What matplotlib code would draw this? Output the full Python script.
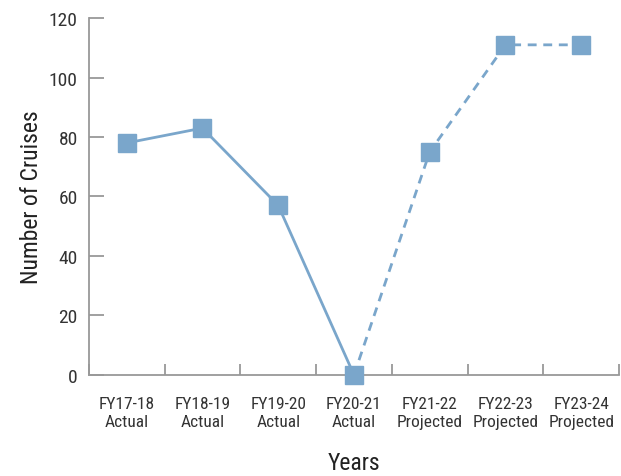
import numpy as np
import matplotlib.pyplot as plt

years = ["FY17-18\nActual", "FY18-19\nActual", "FY19-20\nActual", "FY20-21\nActual",
         "FY21-22\nProjected", "FY22-23\nProjected", "FY23-24\nProjected"]
cruises = [78, 83, 57, 0, 75, 111, 111]
n_actual = 4

plt.rcParams['font.family'] = ['Roboto Condensed', 'DejaVu Sans']
plt.rcParams['font.stretch'] = 'condensed'

color = '#7aa6cb'
axis_gray = '#999999'

fig = plt.figure(figsize=(6.21, 4.77), dpi=100)
ax = fig.add_axes([0.143, 0.212, 0.854, 0.748])

x = np.arange(len(years))
ax.plot(x[:n_actual], cruises[:n_actual], color=color, lw=2, zorder=2)
ax.plot(x[n_actual - 1:], cruises[n_actual - 1:], color=color, lw=2, ls=(0, (3.2, 2.4)), zorder=2)
ax.plot(x, cruises, ls='none', marker='s', ms=12.5, color=color, zorder=3, clip_on=False)

ax.set_xlim(-0.5, len(years) - 0.5)
ax.set_ylim(0, 120)
ax.set_yticks(range(0, 121, 20))
ax.set_xticks(x)
ax.set_xticklabels(years, linespacing=1.25)
ax.set_xticks(np.arange(-0.5, len(years)), minor=True)

for s in ['top', 'right']:
    ax.spines[s].set_visible(False)
for s in ['left', 'bottom']:
    ax.spines[s].set_color(axis_gray)
    ax.spines[s].set_linewidth(1.3)

ax.tick_params(axis='x', which='major', length=0, pad=15, labelsize=12.5, colors='#333333')
ax.tick_params(axis='x', which='minor', length=8, width=1.3, direction='in', color=axis_gray)
ax.tick_params(axis='y', length=11, width=1.3, direction='in', color=axis_gray,
               pad=8, labelsize=14, labelcolor='#333333')

ax.set_xlabel("Years", fontsize=17, color='#222222', labelpad=16)
ax.set_ylabel("Number of Cruises", fontsize=17, color='#222222', labelpad=4)

fig.savefig("out.png", dpi=100)
